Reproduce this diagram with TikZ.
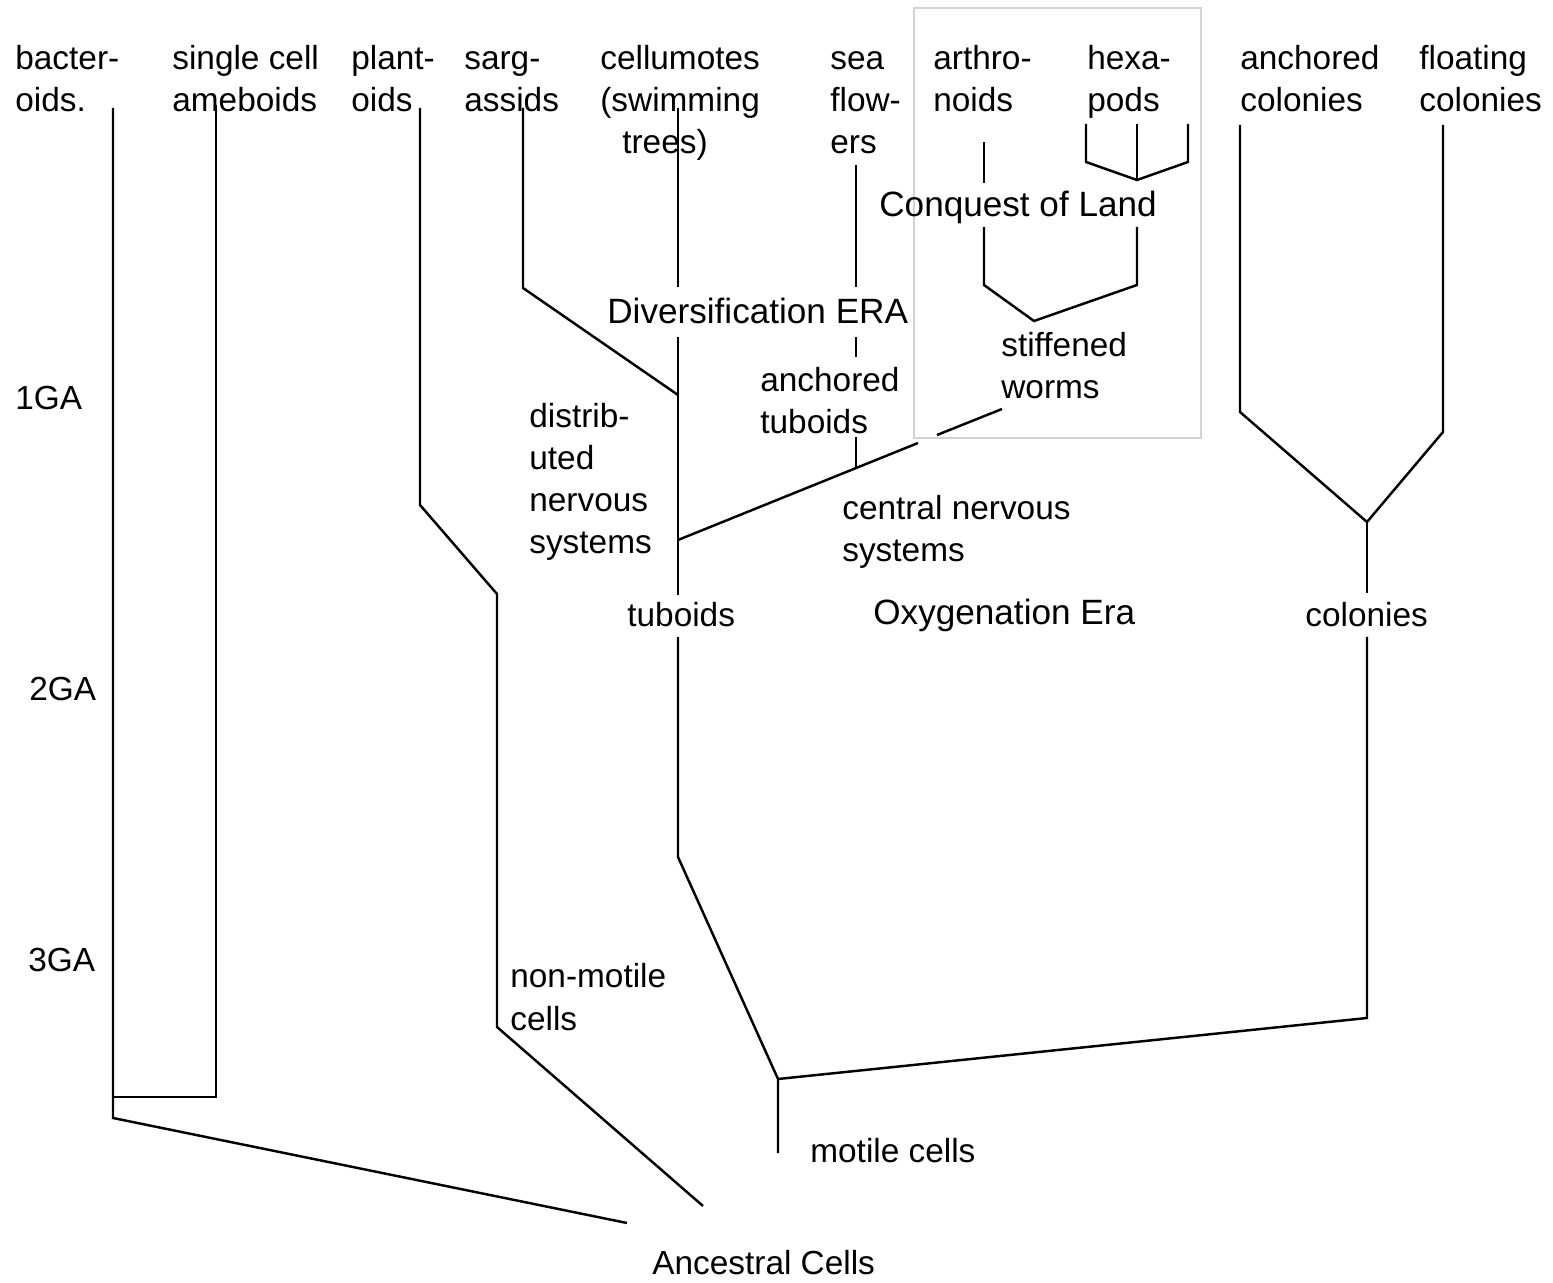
\documentclass[tikz,border=0pt]{standalone}
\usepackage{fontspec}
\setmainfont{Liberation Sans}
\usepackage{tikz}
\usetikzlibrary{positioning}

% labels sit on the baseline of their LAST line
\tikzset{
  branch/.style={line width=1.4pt, line join=miter},
  lbl/.style={anchor=base west, align=left, inner sep=0pt,
    font=\fontsize{19}{24}\selectfont},
  era/.style={lbl, font=\fontsize{20}{24}\selectfont},
  landbox/.style={draw=gray!35, line width=1pt}
}

\begin{document}
\begin{tikzpicture}[x=0.02cm, y=-0.02cm]
\useasboundingbox (0,0) rectangle (1553,1283);

% Box around land animals
\draw[landbox] (914,8) rectangle (1201,438);

% Leaf labels
\node[lbl] (bact)   at (15,112)   {bacter-\\oids.};
\node[lbl] (amoe)   at (172,112)  {single cell\\ameboids};
\node[lbl] (plant)  at (351,112)  {plant-\\oids};
\node[lbl] (sarg)   at (464,112)  {sarg-\\assids};
\node[lbl] (cellu)  at (600,154)  {cellumotes\\(swimming\\\hspace*{0.44cm}trees)};
\node[lbl] (seafl)  at (830,154)  {sea\\flow-\\ers};
\node[lbl] (arthro) at (933,112)  {arthro-\\noids};
\node[lbl] (hexa)   at (1087,112) {hexa-\\pods};
\node[lbl] (anccol) at (1240,112) {anchored\\colonies};
\node[lbl] (flocol) at (1419,112) {floating\\colonies};

% Inner labels
\node[lbl] (stiff)   at (1001,399) {stiffened\\worms};
\node[lbl] (anctub)  at (760,434)  {anchored\\tuboids};
\node[lbl] (distrib) at (529,554)  {distrib-\\uted\\nervous\\systems};
\node[lbl] (central) at (842,562)  {central nervous\\systems};
\node[lbl] (tuboids) at (627,627)  {tuboids};
\node[lbl] (colon)   at (1305,627) {colonies};
\node[lbl] (nonmot)  at (510,1030) {non-motile\\cells};
\node[lbl] (motile)  at (810,1162) {motile cells};
\node[lbl] (ancest)  at (652,1274) {Ancestral Cells};

% Eras
\node[era] (conquest) at (879,217) {Conquest of Land};
\node[era] (divers)   at (607,324) {Diversification ERA};
\node[era] (oxygen)   at (873,625) {Oxygenation Era};

% Time scale
\node[lbl] (ga1) at (15,410) {1GA};
\node[lbl] (ga2) at (29,701) {2GA};
\node[lbl] (ga3) at (28,971) {3GA};

% Branch points
\coordinate (bactTop)    at (113,108);
\coordinate (bactFork)   at (113,1097);
\coordinate (bactRoot)   at (113,1118);
\coordinate (amoeTop)    at (216,105);
\coordinate (amoeFork)   at (216,1097);
\coordinate (ancRoot)    at (627,1223);
\coordinate (plantTop)   at (420,108);
\coordinate (plantBend)  at (420,505);
\coordinate (plantKnee)  at (497,594);
\coordinate (nonmotBend) at (497,1027);
\coordinate (nonmotRoot) at (703,1206);
\coordinate (sargTop)    at (523,108);
\coordinate (sargBend)   at (523,288);
\coordinate (sargFork)   at (678,395);
\coordinate (celluTop)   at (678,108);
\coordinate (celluA)     at (678,287);
\coordinate (celluB)     at (678,337);
\coordinate (cnsFork)    at (678,540);
\coordinate (tubA)       at (678,595);
\coordinate (tubB)       at (678,637);
\coordinate (tubBend)    at (678,857);
\coordinate (motFork)    at (778,1079);
\coordinate (motEnd)     at (778,1153);
\coordinate (cnsGapA)    at (918,443);
\coordinate (cnsGapB)    at (937,435);
\coordinate (cnsEnd)     at (1002,409);
\coordinate (seaTop)     at (856,165);
\coordinate (seaA)       at (856,287);
\coordinate (seaB)       at (856,337);
\coordinate (seaC)       at (856,357);
\coordinate (seaD)       at (856,437);
\coordinate (seaFork)    at (856,468);
\coordinate (swFork)     at (1034,321);
\coordinate (arthA)      at (984,285);
\coordinate (arthB)      at (984,227);
\coordinate (arthC)      at (984,183);
\coordinate (arthTop)    at (984,142);
\coordinate (hexA)       at (1137,285);
\coordinate (hexB)       at (1137,227);
\coordinate (hexFork)    at (1137,180);
\coordinate (hexTop)     at (1137,124);
\coordinate (hexL)       at (1086,162);
\coordinate (hexLTop)    at (1086,124);
\coordinate (hexR)       at (1188,162);
\coordinate (hexRTop)    at (1188,124);
\coordinate (colBase)    at (1367,1018);
\coordinate (colA)       at (1367,637);
\coordinate (colB)       at (1367,593);
\coordinate (colFork)    at (1367,522);
\coordinate (ancColBend) at (1240,412);
\coordinate (ancColTop)  at (1240,125);
\coordinate (floColBend) at (1443,432);
\coordinate (floColTop)  at (1443,125);

% Bacteroids and ameboids
\draw[branch] (bactTop) -- (bactRoot) -- (ancRoot);
\draw[branch] (bactFork) -- (amoeFork) -- (amoeTop);

% Plantoids
\draw[branch] (plantTop) -- (plantBend) -- (plantKnee) -- (nonmotBend) -- (nonmotRoot);

% Tuboids trunk
\draw[branch] (celluTop) -- (celluA);
\draw[branch] (celluB) -- (tubA);
\draw[branch] (tubB) -- (tubBend) -- (motFork) -- (motEnd);
\draw[branch] (sargTop) -- (sargBend) -- (sargFork);

% Central nervous systems
\draw[branch] (cnsFork) -- (cnsGapA);
\draw[branch] (cnsGapB) -- (cnsEnd);
\draw[branch] (seaTop) -- (seaA);
\draw[branch] (seaB) -- (seaC);
\draw[branch] (seaD) -- (seaFork);

% Conquest of land
\draw[branch] (arthTop) -- (arthC);
\draw[branch] (arthB) -- (arthA) -- (swFork) -- (hexA) -- (hexB);
\draw[branch] (hexTop) -- (hexFork);
\draw[branch] (hexLTop) -- (hexL) -- (hexFork) -- (hexR) -- (hexRTop);

% Colonies
\draw[branch] (motFork) -- (colBase) -- (colA);
\draw[branch] (colB) -- (colFork);
\draw[branch] (ancColTop) -- (ancColBend) -- (colFork) -- (floColBend) -- (floColTop);
\end{tikzpicture}
\end{document}
